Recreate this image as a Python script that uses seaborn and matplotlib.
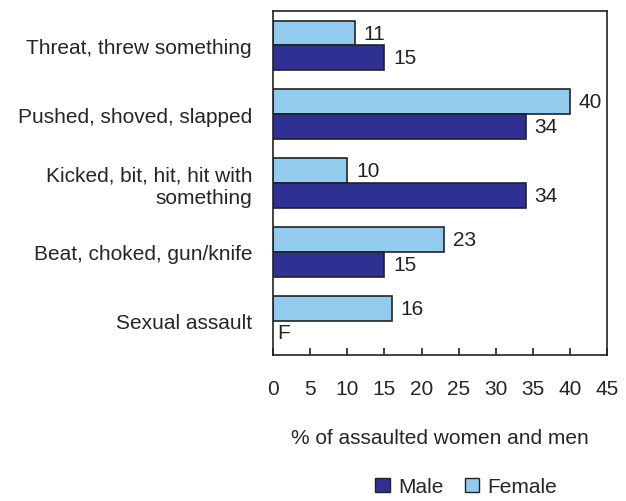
import matplotlib
matplotlib.use("Agg")
import matplotlib.pyplot as plt
import seaborn as sns
import pandas as pd
import numpy as np
from matplotlib.patches import Patch

categories = ["Threat, threw something", "Pushed, shoved, slapped",
              "Kicked, bit, hit, hit with\nsomething", "Beat, choked, gun/knife",
              "Sexual assault"]
female = [11, 40, 10, 23, 16]
male = [15, 34, 34, 15, np.nan]  # F = too unreliable to be published
female_labels = ["11", "40", "10", "23", "16"]
male_labels = ["15", "34", "34", "15", "F"]

dark = "#2e3192"
light = "#92cbee"

sns.set_theme(style="white")
plt.rcParams["font.family"] = ["Liberation Sans", "DejaVu Sans"]

df = pd.DataFrame({
    "cat": categories * 2,
    "sex": ["Female"] * 5 + ["Male"] * 5,
    "value": female + male,
})

fig = plt.figure(figsize=(6.26, 5.02), dpi=100)
ax = fig.add_axes([0.436, 0.291, 0.534, 0.685])
sns.barplot(data=df, y="cat", x="value", hue="sex", hue_order=["Female", "Male"],
            palette={"Female": light, "Male": dark}, orient="h", width=0.72,
            saturation=1, edgecolor="#222222", linewidth=1.2, legend=False, ax=ax)

# value labels, placed next to each female bar and the male bar just below it
fs = 15
for i, fbar in enumerate(ax.containers[0]):
    h = fbar.get_height()
    yc = fbar.get_y() + h / 2
    ax.text(female[i] + 1.2, yc, female_labels[i], va="center", ha="left",
            fontsize=fs, color="#222222")
    mv = 0 if np.isnan(male[i]) else male[i]
    ax.text(mv + 1.2 if mv else 0.6, yc + h, male_labels[i], va="center",
            ha="left", fontsize=fs, color="#222222")

ax.set_xlim(0, 45)
ax.set_xticks(range(0, 50, 5))
ax.tick_params(axis="x", direction="in", length=5, width=1.2, color="#222222",
               labelsize=fs, pad=17, bottom=True)
ax.tick_params(axis="y", length=0, labelsize=fs, pad=15)
for s in ax.spines.values():
    s.set_color("#222222")
    s.set_linewidth(1.2)
ax.set_ylabel("")
ax.set_xlabel("% of assaulted women and men", fontsize=fs, labelpad=22)
for t in ax.get_yticklabels():
    t.set_ha("right")
    t.set_multialignment("right")

handles = [Patch(facecolor=dark, edgecolor="#222222", label="Male"),
           Patch(facecolor=light, edgecolor="#222222", label="Female")]
fig.legend(handles=handles, loc="center", bbox_to_anchor=(0.745, 0.028), ncol=2,
           frameon=False, fontsize=fs, handlelength=0.7, handleheight=0.7,
           handletextpad=0.4, columnspacing=1.0)

fig.savefig("out.png", dpi=100)
